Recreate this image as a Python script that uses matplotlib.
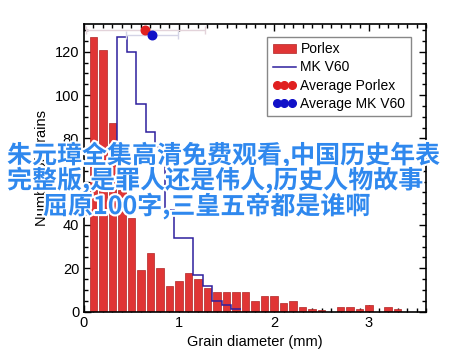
import numpy as np
import matplotlib
matplotlib.use("Agg")
from matplotlib import pyplot as plt
from matplotlib import patheffects as pe
from matplotlib.lines import Line2D
from matplotlib.ticker import MultipleLocator

# porlex histogram (bar centres in mm, counts)
porlex_x = [0.1, 0.2, 0.3, 0.4, 0.5, 0.6, 0.7, 0.8, 0.9, 1.0, 1.1,
            1.2, 1.3, 1.4, 1.5, 1.6, 1.7, 1.8, 1.9, 2.0, 2.1, 2.2,
            2.3, 2.4, 2.5, 2.6, 2.7, 2.8, 2.9, 3.0, 3.1, 3.2, 3.3]
porlex_n = [127, 121, 87, 56, 43, 19, 27, 20, 12, 14, 18,
            15, 11, 9, 9, 9, 9, 5, 7, 7, 4, 5,
            2, 1, 0.6, 0, 2, 2, 1, 3, 0, 2, 1]

# mk v60 step histogram (first bin mostly hidden under the text)
mk_edges = [0.25, 0.35, 0.45, 0.55, 0.65, 0.75, 0.85, 0.95, 1.05,
            1.15, 1.25, 1.35, 1.45, 1.55, 1.65]
mk_n = [62, 127, 120, 96, 83, 76, 47, 34, 34, 17, 12, 5, 3, 1]

# averages with spread
avg_porlex = (0.646, 130, 0.63)
avg_mk = (0.716, 127.8, 0.27)

overlay = ["朱元璋全集高清免费观看,中国历史年表",
           "完整版,是罪人还是伟人,历史人物故事",
           "屈原100字,三皇五帝都是谁啊"]

plt.rcParams['font.family'] = ['Liberation Sans', 'DejaVu Sans']
plt.rcParams['font.size'] = 10

fig = plt.figure(figsize=(4.6, 3.54), dpi=100)
ax = fig.add_axes([0.1826, 0.12, 0.7435, 0.812])

bars = ax.bar(porlex_x, porlex_n, width=0.08, color='#e03535',
              edgecolor='#b02525', linewidth=0.5, label='Porlex', zorder=2)
st = ax.stairs(mk_n, mk_edges, color='#2e1f9e', linewidth=1.1,
               baseline=None, label='MK V60', zorder=3)

ax.errorbar(avg_porlex[0], avg_porlex[1], xerr=avg_porlex[2], fmt='none',
            ecolor='#e3d3da', elinewidth=1, capsize=3, zorder=3)
ax.errorbar(avg_mk[0], avg_mk[1], xerr=avg_mk[2], fmt='none',
            ecolor='#d4d4e6', elinewidth=1, capsize=3, zorder=3)
ax.scatter([avg_porlex[0]], [avg_porlex[1]], s=38, color='#e02020', zorder=4)
ax.scatter([avg_mk[0]], [avg_mk[1]], s=38, color='#1010c8', zorder=5)

ax.set_xlim(0, 3.6)
ax.set_ylim(0, 132.8)
ax.xaxis.set_major_locator(MultipleLocator(1))
ax.xaxis.set_minor_locator(MultipleLocator(0.1))
ax.yaxis.set_major_locator(MultipleLocator(20))
ax.yaxis.set_minor_locator(MultipleLocator(5))
ax.tick_params(which='both', direction='in', top=True, right=True,
               labelsize=10.5, width=1)
ax.tick_params(which='major', length=5)
ax.tick_params(which='minor', length=3)
for s in ax.spines.values():
    s.set_linewidth(1.2)

ax.set_xlabel('Grain diameter (mm)', fontsize=10.5, labelpad=3)
ax.set_ylabel('Number of Grains', fontsize=10.5, labelpad=4)

# legend dots: three equal markers per entry
hp = Line2D([], [], ls='none', marker='o', ms=5.5, color='#e02020')
hm = Line2D([], [], ls='none', marker='o', ms=5.5, color='#1010c8')
leg = ax.legend([bars, st, hp, hm],
                ['Porlex', 'MK V60', 'Average Porlex', 'Average MK V60'],
                loc='upper right', bbox_to_anchor=(0.956, 0.956),
                borderaxespad=0, numpoints=3,
                fontsize=10, fancybox=False, edgecolor='#888888',
                framealpha=1, handlelength=1.7, handletextpad=0.3,
                labelspacing=0.3, borderpad=0.4)
leg.get_frame().set_linewidth(1)

cjk = ['Noto Sans CJK SC', 'DejaVu Sans']
outline = [pe.withStroke(linewidth=3, foreground='white')]
text_x = [7, 7, 43]
text_y = [155, 180, 206]
for s, x, y in zip(overlay, text_x, text_y):
    fig.text(x / 460, 1 - y / 354, s, family=cjk, fontsize=18,
             fontweight='bold', color='#2f88ee', va='center', ha='left',
             path_effects=outline, zorder=10)

fig.savefig('out.png', dpi=100)
